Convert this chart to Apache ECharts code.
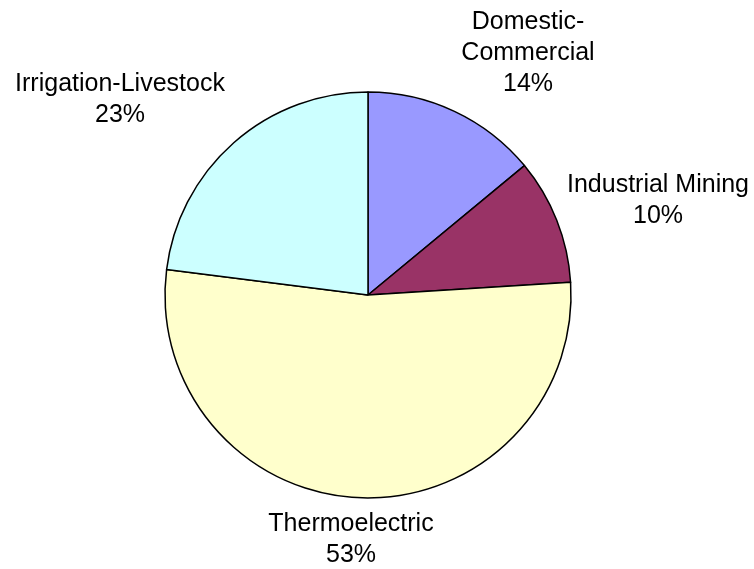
<!DOCTYPE html>
<html>
<head>
<meta charset="utf-8">
<script src="https://cdn.jsdelivr.net/npm/echarts@6/dist/echarts.min.js"></script>
<style>
html,body{margin:0;padding:0;background:#fff;}
#chart{width:754px;height:569px;}
</style>
</head>
<body>
<div id="chart"></div>
<script>
const categories = ['Domestic-Commercial', 'Industrial Mining', 'Thermoelectric', 'Irrigation-Livestock'];
const labelTexts = ['Domestic-\nCommercial', 'Industrial Mining', 'Thermoelectric', 'Irrigation-Livestock'];
const values = [14, 10, 53, 23];
const colors = ['#9999FF', '#993366', '#FFFFCC', '#CCFFFF'];
const labelPos = [[528, 53], [658, 201], [351, 540], [120, 100]];

const chart = echarts.init(document.getElementById('chart'), null, {renderer: 'canvas'});
chart.setOption({
  backgroundColor: '#ffffff',
  animation: false,
  series: [{
    type: 'pie',
    center: [368, 295],
    radius: 203,
    startAngle: 90,
    clockwise: true,
    data: categories.map((c, i) => ({
      name: c,
      value: values[i],
      itemStyle: {color: colors[i]}
    })),
    itemStyle: {borderColor: '#000', borderWidth: 1.5},
    label: {
      show: true,
      position: 'outside',
      alignTo: 'none',
      overflow: 'none',
      width: 300,
      formatter: p => labelTexts[p.dataIndex] + '\n' + p.value + '%',
      fontFamily: 'Liberation Sans, Arial, sans-serif',
      fontSize: 25,
      lineHeight: 31,
      color: '#000',
      align: 'center'
    },
    labelLine: {show: false},
    labelLayout: p => ({
      x: labelPos[p.dataIndex][0],
      y: labelPos[p.dataIndex][1],
      align: 'center',
      verticalAlign: 'middle'
    }),
    emphasis: {disabled: true}
  }]
});
</script>
</body>
</html>
